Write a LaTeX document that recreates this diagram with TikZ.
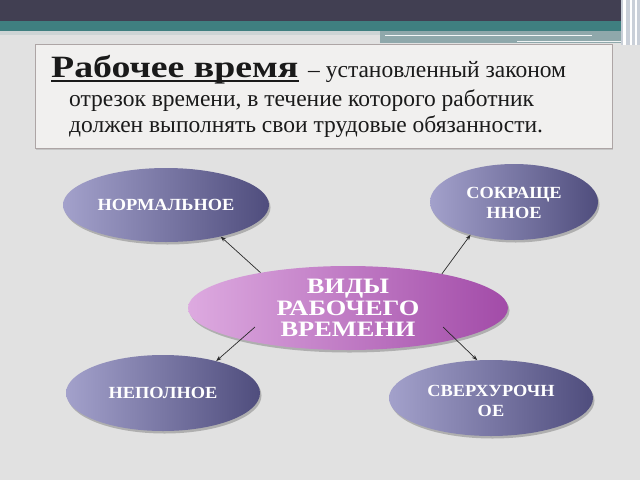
\documentclass[tikz,border=0pt]{standalone}
\usepackage{fontspec}
\setmainfont{LiberationSerif}[Extension=.ttf, UprightFont=*-Regular, BoldFont=*-Bold, ItalicFont=*-Italic, BoldItalicFont=*-BoldItalic]
\newfontfamily\ovfont{LiberationSerif}[Extension=.ttf, UprightFont=*-Regular, BoldFont=*-Bold, FakeStretch=1.08]
\newfontfamily\cfont{LiberationSerif}[Extension=.ttf, UprightFont=*-Regular, BoldFont=*-Bold, FakeStretch=1.2]
\newfontfamily\tfont{LiberationSerif}[Extension=.ttf, UprightFont=*-Regular, BoldFont=*-Bold, FakeStretch=1.22]
\usetikzlibrary{shapes.geometric,shadows,calc,arrows.meta}
\definecolor{bg}{HTML}{E1E1E1}
\definecolor{darkbar}{HTML}{413F52}
\definecolor{tealbar}{HTML}{3F7F80}
\definecolor{grayteal}{HTML}{8FA8AB}
\definecolor{strip}{HTML}{CDD4D5}
\definecolor{edge}{HTML}{C9CFD8}
\definecolor{boxfill}{HTML}{F1F0EF}
\definecolor{boxline}{HTML}{ADA5A5}
\definecolor{ovl}{HTML}{A3A1CB}
\definecolor{ovr}{HTML}{4F4D7D}
\definecolor{cvl}{HTML}{DDAAE0}
\definecolor{cvr}{HTML}{A24BA8}
\definecolor{arrc}{HTML}{2A2A2A}
\definecolor{txt}{HTML}{1A1A1A}
\begin{document}
\begin{tikzpicture}[x=1pt,y=-1pt,
  oval/.style={ellipse, inner sep=0pt, draw=none, left color=ovl, right color=ovr,
     drop shadow={shadow xshift=1.5pt, shadow yshift=-2.5pt, fill=black, opacity=0.22}},
  cent/.style={ellipse, inner sep=0pt, draw=none, left color=cvl, right color=cvr,
     drop shadow={shadow xshift=1.5pt, shadow yshift=-2.5pt, fill=black, opacity=0.22}},
  otext/.style={text=white, align=center, font=\ovfont\bfseries\fontsize{17}{19.5}\selectfont, inner sep=0pt},
  ctext/.style={text=white, align=center, font=\cfont\bfseries\fontsize{22}{21.5}\selectfont, inner sep=0pt},
  arr/.style={draw=arrc, line width=0.7pt, -{Stealth[length=5.5pt,width=4pt]}},
  line/.style={anchor=base west, inner sep=0pt, text=txt, font=\fontsize{23.5}{26}\selectfont}
]
\useasboundingbox (0,0) rectangle (640,480);
\fill[bg] (0,0) rectangle (640,480);
% top bars
\fill[darkbar] (0,0) rectangle (621,21);
\fill[tealbar] (0,21) rectangle (621,31);
\fill[strip] (0,31) rectangle (380,35);
\fill[grayteal] (380,31) rectangle (621,43);
\draw[white!90!grayteal, line width=1.3pt] (385,35.5) -- (592,35.5);
\draw[white!85!grayteal, line width=1pt] (517,41.5) -- (621,41.5);
\fill[edge] (621,0) rectangle (640,45);
\fill[white] (623,0) rectangle (625.5,45);
\fill[white] (630,0) rectangle (632,45);
\fill[white] (635,0) rectangle (637,45);
% text box
\node[draw=boxline, fill=boxfill, line width=0.8pt, minimum width=577, minimum height=104, anchor=north west, inner sep=0pt,
  drop shadow={shadow xshift=1pt, shadow yshift=-1.5pt, fill=black, opacity=0.12}] (box) at (35,44) {};
\node[line, font=\tfont\bfseries\fontsize{31}{31}\selectfont] (tl) at (51,77) {Рабочее время};
\draw[txt, line width=2pt] ([yshift=-4pt]tl.base west) -- ([yshift=-4pt]tl.base east);
\node[line] (l1) at (308,77) {– установленный законом};
\node[line] (l2) at (69,106) {отрезок времени, в течение которого работник};
\node[line] (l3) at (69,132.5) {должен выполнять свои трудовые обязанности.};
% ellipses
\node[oval, minimum width=206, minimum height=74] (n1) at (166,205) {};
\node[otext] (t1) at (n1) {НОРМАЛЬНОЕ};
\node[oval, minimum width=168, minimum height=76] (n2) at (514,202) {};
\node[otext] (t2) at ([yshift=-1pt]n2.center) {СОКРАЩЕ\\ННОЕ};
\node[oval, minimum width=194, minimum height=76] (n3) at (163,393) {};
\node[otext] (t3) at (n3) {НЕПОЛНОЕ};
\node[oval, minimum width=204, minimum height=76] (n4) at (491,398) {};
\node[otext] (t4) at ([yshift=-3pt]n4.center) {СВЕРХУРОЧН\\ОЕ};
\node[cent, minimum width=320, minimum height=84] (c) at (348,308) {};
\node[ctext] (ct) at (c) {ВИДЫ\\РАБОЧЕГО\\ВРЕМЕНИ};
% arrows
\draw[arr] (c.158) -- (n1.-30);
\draw[arr] (c.20) -- (n2.217);
\draw[arr] ($(c.center)+(-93,19)$) -- (n3.31);
\draw[arr] ($(c.center)+(95,19)$) -- (n4.110);
\end{tikzpicture}
\end{document}
